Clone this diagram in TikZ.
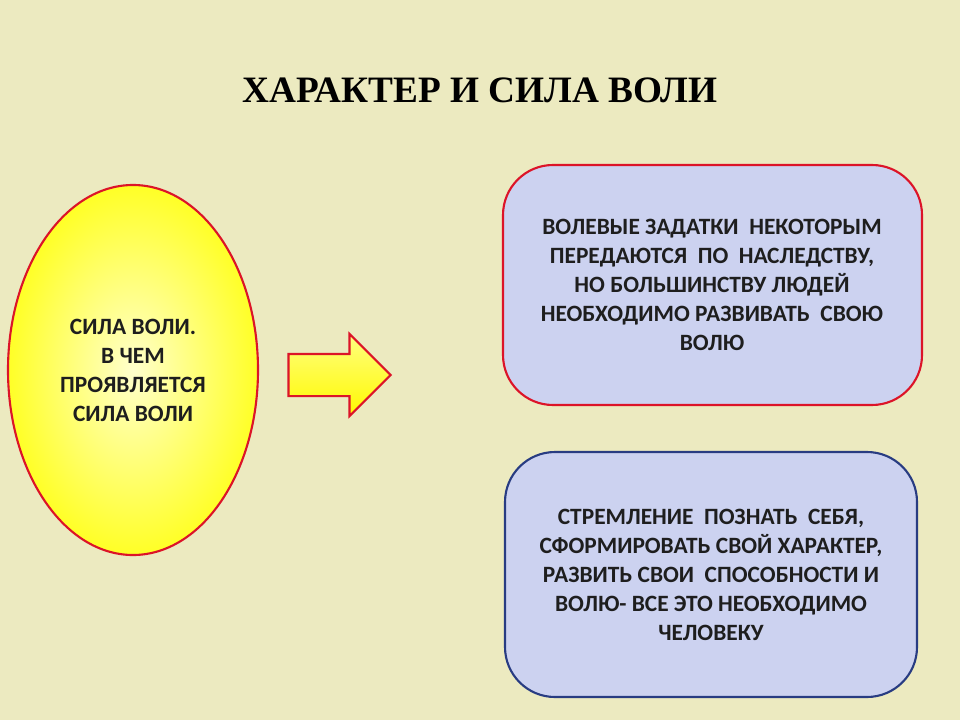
\documentclass[tikz,border=0pt]{standalone}
\usepackage{fontspec}
\setmainfont{Liberation Serif}
\newfontfamily\boxfont{Carlito}
\usetikzlibrary{shapes.arrows,shapes.geometric}
\definecolor{bgbeige}{RGB}{236,234,192}
\definecolor{boxblue}{RGB}{204,210,240}
\definecolor{edgered}{RGB}{220,20,40}
\definecolor{edgeblue}{RGB}{40,60,130}
\definecolor{txtdark}{RGB}{30,30,30}
\tikzset{
  infobox/.style={rounded corners=10mm, fill=boxblue, line width=1.2pt},
  boxtext/.style={align=center, font=\boxfont\bfseries\fontsize{13.3}{16.5}\selectfont, text=txtdark}
}
\begin{document}
\begin{tikzpicture}[x=0.2mm, y=-0.2mm]
  % Background
  \fill[bgbeige] (0,0) rectangle (960,720);
  \useasboundingbox (0,0) rectangle (960,720);

  % Title
  \node[font=\bfseries\fontsize{21.2}{24}\selectfont] (title) at (480,90) {ХАРАКТЕР И СИЛА ВОЛИ};

  % Ellipse
  \node[ellipse, draw=edgered, line width=1.2pt, inner color=yellow!20, outer color=yellow!85,
    minimum width=50mm, minimum height=74mm, boxtext] (will) at (133,370)
    {СИЛА ВОЛИ.\\В ЧЕМ\\ПРОЯВЛЯЕТСЯ\\СИЛА ВОЛИ};

  % Arrow
  \node[single arrow, draw=edgered, line width=1.2pt, top color=yellow!50, bottom color=yellow!95!orange,
    minimum height=20.4mm, inner xsep=0pt, inner ysep=4mm, single arrow head extend=4mm,
    single arrow tip angle=90] (arrow) at (329,375) {};

  % Boxes
  \draw[infobox, draw=edgered] (503,165) rectangle (922,405);
  \node[boxtext] (inherit) at (712,285)
    {ВОЛЕВЫЕ ЗАДАТКИ\ \ НЕКОТОРЫМ\\ПЕРЕДАЮТСЯ\ \ ПО\ \ НАСЛЕДСТВУ,\\НО БОЛЬШИНСТВУ ЛЮДЕЙ\\НЕОБХОДИМО РАЗВИВАТЬ\ \ СВОЮ\\ВОЛЮ};
  \draw[infobox, draw=edgeblue] (505,452) rectangle (917,697);
  \node[boxtext] (selfdev) at (711,575)
    {СТРЕМЛЕНИЕ\ \ ПОЗНАТЬ\ \ СЕБЯ,\\СФОРМИРОВАТЬ СВОЙ ХАРАКТЕР,\\РАЗВИТЬ СВОИ\ \ СПОСОБНОСТИ И\\ВОЛЮ- ВСЕ ЭТО НЕОБХОДИМО\\ЧЕЛОВЕКУ};
\end{tikzpicture}
\end{document}
